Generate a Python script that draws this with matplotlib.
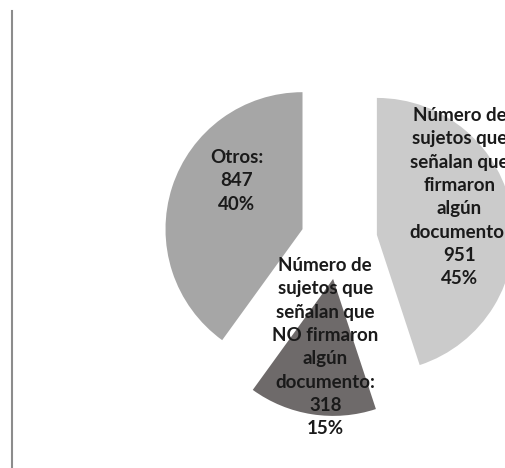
import numpy as np
import matplotlib
matplotlib.use("Agg")
import matplotlib.pyplot as plt
from matplotlib.lines import Line2D

# data
labels = [
    "Número de\nsujetos que\nseñalan que\nfirmaron\nalgún\ndocumento:",
    "Número de\nsujetos que\nseñalan que\nNO firmaron\nalgún\ndocumento:",
    "Otros:",
]
values = [951, 318, 847]
percents = ["45%", "15%", "40%"]
colors = ["#cbcbcb", "#6e6a6a", "#a6a6a6"]

# layout (pixel scale of the reference)
W, H = 506, 468
R_PX = 137.0
CX, CY = 339.0, 241.0
label_pos = [(0.88, 0.32), (-0.10, -0.775), (-0.745, 0.44)]

fig = plt.figure(figsize=(W / 100, H / 100), dpi=100)
ax = fig.add_axes([0, 0, 1, 1])

wedges, _ = ax.pie(
    values,
    colors=colors,
    startangle=90,
    counterclock=False,
    explode=[0.28, 0.28, 0.28],
    radius=1.0,
    wedgeprops=dict(linewidth=0),
)

for i, w in enumerate(wedges):
    txt = f"{labels[i]}\n{values[i]}\n{percents[i]}"
    ax.text(
        label_pos[i][0], label_pos[i][1], txt,
        ha="center", va="center", multialignment="center",
        fontsize=13.5, fontweight="bold", family=["Lato", "DejaVu Sans"],
        color="#1a1a1a", linespacing=1.45,
    )

ax.set_xlim(-CX / R_PX, (W - CX) / R_PX)
ax.set_ylim(-(H - CY) / R_PX, CY / R_PX)
ax.set_aspect("auto")
ax.axis("off")

fig.add_artist(Line2D([12 / W, 12 / W], [0, 1 - 11 / H],
                      transform=fig.transFigure, color="#8c8c8c", linewidth=1.5))

fig.savefig("out.png", dpi=100)
